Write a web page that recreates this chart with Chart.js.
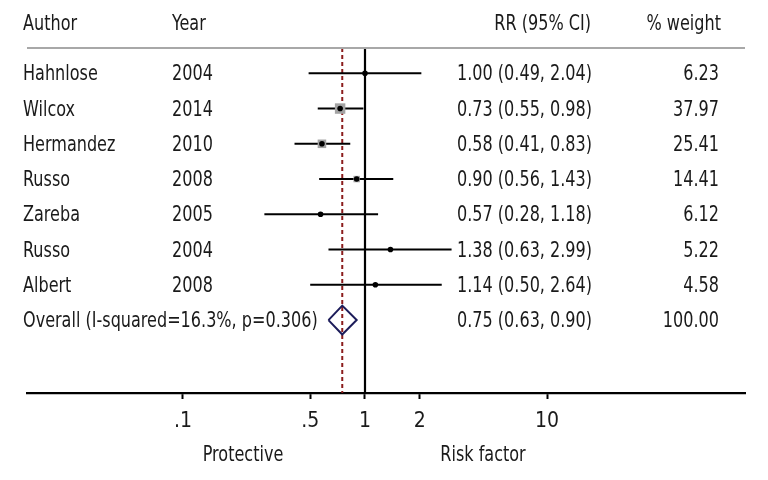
<!DOCTYPE html>
<html>
<head>
<meta charset="utf-8">
<script src="https://cdn.jsdelivr.net/npm/chart.js@4.4.1/dist/chart.umd.min.js"></script>
<style>
  html, body { margin: 0; padding: 0; background: #ffffff; }
  canvas { display: block; }
</style>
</head>
<body>
<canvas id="c" width="768" height="480"></canvas>
<script>
// ---------------- data ----------------
const authors = ['Hahnlose', 'Wilcox', 'Hermandez', 'Russo', 'Zareba', 'Russo', 'Albert'];
const years   = ['2004', '2014', '2010', '2008', '2005', '2004', '2008'];
const rr      = [1.00, 0.73, 0.58, 0.90, 0.57, 1.38, 1.14];
const ciLow   = [0.49, 0.55, 0.41, 0.56, 0.28, 0.63, 0.50];
const ciHigh  = [2.04, 0.98, 0.83, 1.43, 1.18, 2.99, 2.64];
const weights = [6.23, 37.97, 25.41, 14.41, 6.12, 5.22, 4.58];

const overallLabel  = 'Overall (I-squared=16.3%, p=0.306)';
const overallRR     = 0.75;
const overallLow    = 0.63;
const overallHigh   = 0.90;
const overallWeight = 100.00;

const headers    = ['Author', 'Year', 'RR (95% CI)', '% weight'];
const tickValues = [0.1, 0.5, 1, 2, 10];
const tickLabels = ['.1', '.5', '1', '2', '10'];
const sideLabels = ['Protective', 'Risk factor'];
const nullValue  = 1;

// ---------------- styling ----------------
const FONT = '"Liberation Sans Narrow", "Arial Narrow", "DejaVu Sans Condensed", sans-serif';
const FS = 21;
const SX = 0.85;           // horizontal condensing of text
const TEXT = '#1a1a1a';
const X_MIN = 0.01390, X_MAX = 122.4;
const Y_MIN = -0.718, Y_MAX = 9.069;
const overallRow = authors.length;
const TEXT_DY = 1.5;

// CI line datasets
const ciSets = authors.map((a, i) => ({
  data: [{x: ciLow[i], y: i}, {x: ciHigh[i], y: i}],
  showLine: true, borderColor: '#000', borderWidth: 2,
  pointRadius: 0, order: 5
}));

const dh = 0.41;
const datasets = [
  { // dashed overall line
    data: [{x: overallRR, y: Y_MIN}, {x: overallRR, y: Y_MAX}],
    showLine: true, borderColor: '#8b1c1c', borderWidth: 2, borderDash: [4, 3],
    pointRadius: 0, order: 10
  },
  { // null line
    data: [{x: nullValue, y: Y_MIN}, {x: nullValue, y: Y_MAX}],
    showLine: true, borderColor: '#000', borderWidth: 2.2,
    pointRadius: 0, order: 9
  },
  ...ciSets,
  { // weight squares
    data: rr.map((v, i) => ({x: v, y: i})),
    pointStyle: 'rect',
    pointRadius: weights.map(w => 1.2 * Math.sqrt(w)),
    backgroundColor: '#a3a3a3', borderColor: '#a3a3a3', borderWidth: 0,
    order: 3
  },
  { // point estimates
    data: rr.map((v, i) => ({x: v, y: i})),
    pointStyle: 'circle', pointRadius: 2.8,
    backgroundColor: '#000', borderColor: '#000', borderWidth: 0,
    order: 2
  },
  { // overall diamond
    data: [
      {x: overallLow, y: overallRow},
      {x: overallRR, y: overallRow - dh},
      {x: overallHigh, y: overallRow},
      {x: overallRR, y: overallRow + dh},
      {x: overallLow, y: overallRow}
    ],
    showLine: true, borderColor: '#1c1c5a', borderWidth: 2, tension: 0,
    pointRadius: 0, order: 1
  }
];

function drawText(ctx, str, x, y, align) {
  ctx.save();
  ctx.translate(x, y);
  ctx.scale(SX, 1);
  ctx.textAlign = align;
  ctx.fillText(str, 0, 0);
  ctx.restore();
}

const textPlugin = {
  id: 'forestText',
  afterDraw(chart) {
    const ctx = chart.ctx;
    const ys = chart.scales.y;
    const area = chart.chartArea;
    ctx.save();
    // header rule
    ctx.strokeStyle = '#a8a8a8';
    ctx.lineWidth = 2;
    ctx.beginPath();
    ctx.moveTo(area.left, area.top);
    ctx.lineTo(area.right, area.top);
    ctx.stroke();

    ctx.font = FS + 'px ' + FONT;
    ctx.fillStyle = TEXT;
    ctx.textBaseline = 'middle';
    // headers
    const hy = 25;
    drawText(ctx, headers[0], 23, hy, 'left');
    drawText(ctx, headers[1], 172, hy, 'left');
    drawText(ctx, headers[2], 591, hy, 'right');
    drawText(ctx, headers[3], 721, hy, 'right');

    const fmt = (a, b, c) => a.toFixed(2) + ' (' + b.toFixed(2) + ', ' + c.toFixed(2) + ')';
    authors.forEach((a, i) => {
      const y = ys.getPixelForValue(i) + TEXT_DY;
      drawText(ctx, a, 23, y, 'left');
      drawText(ctx, years[i], 172, y, 'left');
      drawText(ctx, fmt(rr[i], ciLow[i], ciHigh[i]), 457, y, 'left');
      drawText(ctx, weights[i].toFixed(2), 719, y, 'right');
    });
    const oy = ys.getPixelForValue(overallRow) + TEXT_DY;
    drawText(ctx, overallLabel, 23, oy, 'left');
    drawText(ctx, fmt(overallRR, overallLow, overallHigh), 457, oy, 'left');
    drawText(ctx, overallWeight.toFixed(2), 719, oy, 'right');

    // side labels
    drawText(ctx, sideLabels[0], 243, 456, 'center');
    drawText(ctx, sideLabels[1], 483, 456, 'center');
    ctx.restore();
  }
};

new Chart(document.getElementById('c'), {
  type: 'scatter',
  data: { datasets },
  options: {
    responsive: false,
    animation: false,
    layout: { padding: { left: 27, right: 23, top: 48, bottom: 0 } },
    plugins: { legend: { display: false }, tooltip: { enabled: false } },
    elements: { line: { tension: 0 } },
    scales: {
      x: {
        type: 'logarithmic',
        min: X_MIN, max: X_MAX,
        afterBuildTicks: (s) => { s.ticks = tickValues.map(v => ({value: v})); },
        afterFit: (s) => { s.height = 87; },
        grid: { display: true, drawOnChartArea: false, drawTicks: true, tickLength: 6, tickWidth: 2, tickColor: '#000' },
        border: { display: true, color: '#000', width: 2.2 },
        ticks: {
          autoSkip: false, maxRotation: 0, padding: 10,
          color: TEXT,
          font: { family: FONT, size: FS },
          callback: (v) => { const k = tickValues.indexOf(v); return k >= 0 ? tickLabels[k] : ''; }
        }
      },
      y: {
        type: 'linear', display: false, reverse: true,
        min: Y_MIN, max: Y_MAX
      }
    }
  },
  plugins: [textPlugin]
});
</script>
</body>
</html>
